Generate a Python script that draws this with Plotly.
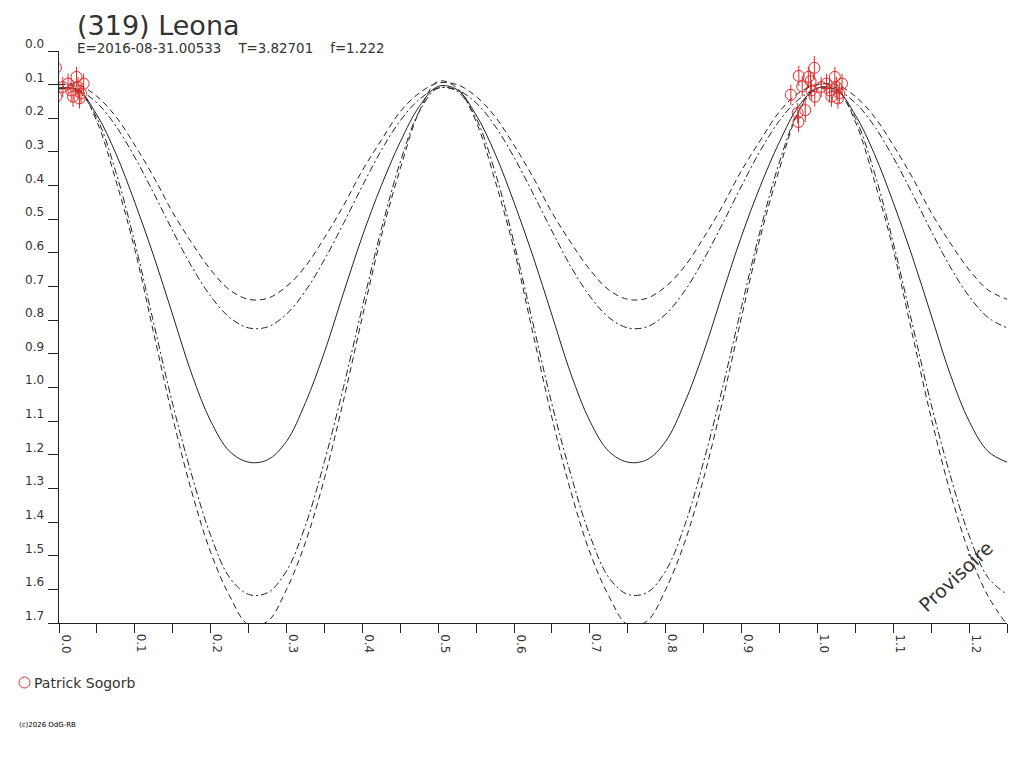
import plotly.graph_objects as go

# rotational phase grid for the model curves (step 0.025)
phase = [round(i * 0.025, 3) for i in range(51)]

# model light curves (magnitude)
solid = [0.11, 0.115, 0.19, 0.305, 0.45, 0.61, 0.785, 0.96, 1.10, 1.19,
         1.222, 1.215, 1.16, 1.045, 0.895, 0.72, 0.55, 0.40, 0.27, 0.165,
         0.105, 0.115, 0.19, 0.305, 0.45, 0.61, 0.785, 0.96, 1.10, 1.19,
         1.222, 1.215, 1.16, 1.045, 0.895, 0.72, 0.55, 0.40, 0.27, 0.165,
         0.11, 0.115, 0.19, 0.305, 0.45, 0.61, 0.785, 0.96, 1.10, 1.19, 1.222]
dash_in = [0.10, 0.10, 0.135, 0.195, 0.28, 0.375, 0.48, 0.57, 0.65, 0.71,
           0.738, 0.735, 0.70, 0.64, 0.555, 0.46, 0.355, 0.265, 0.18, 0.125,
           0.095, 0.10, 0.135, 0.195, 0.28, 0.375, 0.48, 0.57, 0.65, 0.71,
           0.738, 0.735, 0.70, 0.64, 0.555, 0.46, 0.355, 0.265, 0.18, 0.125,
           0.10, 0.10, 0.135, 0.195, 0.28, 0.375, 0.48, 0.57, 0.65, 0.71, 0.738]
dot_in = [0.113, 0.116, 0.154, 0.223, 0.316, 0.423, 0.535, 0.641, 0.729, 0.792,
          0.823, 0.82, 0.782, 0.713, 0.62, 0.513, 0.401, 0.295, 0.207, 0.144,
          0.11, 0.116, 0.154, 0.223, 0.316, 0.423, 0.535, 0.641, 0.729, 0.792,
          0.823, 0.82, 0.782, 0.713, 0.62, 0.513, 0.401, 0.295, 0.207, 0.144,
          0.113, 0.116, 0.154, 0.223, 0.316, 0.423, 0.535, 0.641, 0.729, 0.792, 0.823]
dot_out = [0.11, 0.12, 0.20, 0.36, 0.57, 0.81, 1.05, 1.26, 1.44, 1.565,
           1.615, 1.61, 1.545, 1.41, 1.22, 1.00, 0.76, 0.53, 0.33, 0.18,
           0.11, 0.12, 0.20, 0.36, 0.57, 0.81, 1.05, 1.26, 1.44, 1.565,
           1.615, 1.61, 1.545, 1.41, 1.22, 1.00, 0.76, 0.53, 0.33, 0.18,
           0.11, 0.12, 0.20, 0.36, 0.57, 0.81, 1.05, 1.26, 1.44, 1.565, 1.615]
dash_out = [0.10, 0.11, 0.21, 0.385, 0.59, 0.84, 1.09, 1.31, 1.49, 1.62,
            1.705, 1.695, 1.60, 1.46, 1.27, 1.04, 0.79, 0.55, 0.35, 0.18,
            0.09, 0.11, 0.21, 0.385, 0.59, 0.84, 1.09, 1.31, 1.49, 1.62,
            1.705, 1.695, 1.60, 1.46, 1.27, 1.04, 0.79, 0.55, 0.35, 0.18,
            0.10, 0.11, 0.21, 0.385, 0.59, 0.84, 1.09, 1.31, 1.49, 1.62, 1.705]

# observations (Patrick Sogorb)
obs_phase = [0.965, 0.9755, 0.980, 0.974, 0.975, 0.984, 0.988, 0.991, 0.996, 0.992,
             0.9965, 1.005, 1.012, 1.016, 1.023, 1.025, 1.0185, 1.029, 1.0325, 1.027]
obs_mag = [0.130, 0.074, 0.105, 0.184, 0.211, 0.176, 0.077, 0.090, 0.050, 0.117,
           0.136, 0.107, 0.097, 0.117, 0.077, 0.107, 0.136, 0.126, 0.097, 0.141]
obs_err = [0.03, 0.03, 0.03, 0.03, 0.03, 0.035, 0.03, 0.03, 0.035, 0.03,
           0.03, 0.03, 0.03, 0.035, 0.03, 0.03, 0.03, 0.03, 0.03, 0.03]

y_ticks = [round(i * 0.1, 1) for i in range(18)]
x_ticks = [round(i * 0.05, 2) for i in range(26)]
x_labels = [round(i * 0.1, 1) for i in range(13)]

title = "(319) Leona"
subtitle = "E=2016-08-31.00533\u00a0\u00a0\u00a0\u00a0T=3.82701\u00a0\u00a0\u00a0\u00a0f=1.222"
observer = "Patrick Sogorb"

ink = "#222222"
txt = "#333333"
red = "#e62828"
font = "DejaVu Sans"

fig = go.Figure()

curves = [(dash_in, "6px,4px"), (dot_in, "7px,3px,2px,3px"), (solid, "solid"),
          (dot_out, "7px,3px,2px,3px"), (dash_out, "6px,4px")]
for vals, dash in curves:
    fig.add_trace(go.Scatter(x=phase, y=vals, mode="lines",
                             line=dict(color=ink, width=1, dash=dash, shape="spline"),
                             showlegend=False, hoverinfo="skip"))

# same points folded at phase and phase-1
for shift in (0, -1):
    fig.add_trace(go.Scatter(
        x=[p + shift for p in obs_phase], y=obs_mag, mode="markers",
        marker=dict(symbol="circle-open", size=11, color=red, line=dict(width=1, color=red)),
        error_y=dict(type="data", array=obs_err, visible=True, width=0, thickness=1, color=red),
        showlegend=False, cliponaxis=True))

ann = []
for v in y_ticks:
    ann.append(dict(x=0, xref="paper", y=v, yref="y", text=f"{v:.1f}", showarrow=False,
                    xanchor="right", yanchor="middle", xshift=-13, yshift=7,
                    font=dict(family=font, size=12, color=txt)))
for v in x_labels:
    ann.append(dict(x=v, xref="x", y=0, yref="paper", text=f"{v:.1f}", showarrow=False,
                    textangle=90, xanchor="center", yanchor="top", xshift=7, yshift=-9,
                    font=dict(family=font, size=12, color=txt)))

ann.append(dict(x=0, xref="paper", y=1, yref="paper", text=title, showarrow=False,
                xanchor="left", yanchor="middle", xshift=16, yshift=26,
                font=dict(family=font, size=27, color=txt)))
ann.append(dict(x=0, xref="paper", y=1, yref="paper", text=subtitle, showarrow=False,
                xanchor="left", yanchor="middle", xshift=16, yshift=3,
                font=dict(family=font, size=13.4, color=txt)))
ann.append(dict(x=0, xref="paper", y=0, yref="paper", text=observer, showarrow=False,
                xanchor="left", yanchor="middle", xshift=-27, yshift=-60,
                font=dict(family=font, size=14, color=txt)))
ann.append(dict(x=0, xref="paper", y=0, yref="paper", text="(c)2026 OdG-RB", showarrow=False,
                xanchor="left", yanchor="middle", xshift=-42, yshift=-102,
                font=dict(family=font, size=7, color="#000000")))
ann.append(dict(x=1.1825, xref="x", y=1.559, yref="y", text="Provisoire", showarrow=False,
                textangle=-43, font=dict(family=font, size=19, color=txt)))

# page body keeps an 8px margin, so the figure is 8px smaller each way
fig.update_layout(
    width=1016, height=760, autosize=False,
    margin=dict(l=51, r=17, t=43, b=145),
    paper_bgcolor="white", plot_bgcolor="white",
    annotations=ann,
    shapes=[dict(type="circle", xref="paper", yref="paper",
                 xsizemode="pixel", ysizemode="pixel", xanchor=0, yanchor=0,
                 x0=-40, x1=-29, y0=-65, y1=-54,
                 line=dict(color=red, width=1))],
)
fig.update_xaxes(range=[0, 1.25], tickvals=x_ticks, showticklabels=False,
                 ticks="outside", ticklen=9, tickcolor=ink, showline=True,
                 linecolor=ink, linewidth=1, showgrid=False, zeroline=False)
fig.update_yaxes(range=[1.7, 0], tickvals=y_ticks, showticklabels=False,
                 ticks="outside", ticklen=10, tickcolor=ink, showline=True,
                 linecolor=ink, linewidth=1, showgrid=False, zeroline=False)

fig.write_html("out.html")
